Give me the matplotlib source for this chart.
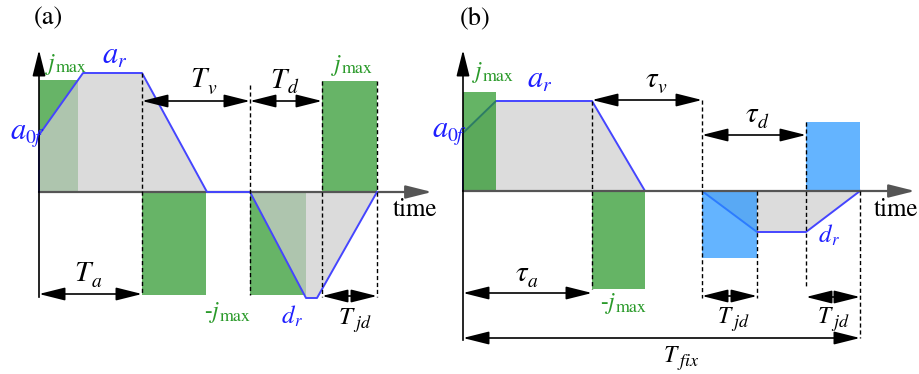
import numpy as np
import matplotlib
matplotlib.use('Agg')
import matplotlib.pyplot as plt
from matplotlib.patches import Rectangle

plt.rcParams['mathtext.fontset'] = 'stix'
plt.rcParams['font.family'] = ['STIXGeneral', 'DejaVu Serif']

# everything is in pixel units of the sketch (y grows downwards)
# panel (a)
a_axis_x, a_axis_y = 39, 192
a_t = [39, 39, 83, 142, 207, 250, 306, 317, 377]
a_acc = [192, 135, 73, 73, 192, 192, 298, 298, 192]
a_boxes = [(39, 78, 80), (142, 206, 295), (250, 306, 295), (322, 377, 81)]
a_dashes = [(142, 73, 295), (250, 85, 295), (322, 81, 297), (377, 81, 297)]
a_spans = [(142, 250, 101), (250, 322, 101), (39, 142, 294), (322, 377, 296)]

# panel (b)
b_axis_x, b_axis_y = 463, 191
b_t = [463, 463, 496, 592, 645, 702, 757, 806, 860]
b_acc = [191, 133, 101, 101, 191, 191, 232, 232, 191]
b_green = [(463, 496, 92), (592, 645, 289)]
b_blue = [(702, 757, 258), (806, 860, 122)]
b_dashes = [(592, 101, 289), (702, 100, 298), (757, 191, 298), (806, 122, 288), (860, 191, 338)]
b_spans = [(592, 702, 100), (702, 806, 135), (463, 592, 293), (702, 757, 296), (806, 860, 297), (463, 860, 338)]

GREEN_TXT = '#2a9a2a'
BLUE_TXT = '#1f1fff'
# (main, subscript, x, baseline, colour, main size, sub size, sub drop, gap)
labels = [
    (r'$j$', r'max', 45, 70, GREEN_TXT, 17, 13, 2, -1),
    (r'$a$', r'$r$', 102, 63, BLUE_TXT, 22, 14, 4, -2),
    (r'$a$', r'$0f$', 10, 139, BLUE_TXT, 22, 14, 4, -2),
    (r'$T$', r'$v$', 190, 87, 'k', 21, 14, 7, -3),
    (r'$T$', r'$d$', 270, 88, 'k', 21, 14, 5, -3),
    (r'$j$', r'max', 331, 71, GREEN_TXT, 17, 13, 2, -1),
    (r'$T$', r'$a$', 74, 281, 'k', 21, 14, 6, -3),
    (r'-$j$', r'max', 204, 318, GREEN_TXT, 17, 13, 3, -1),
    (r'$d$', r'$r$', 281, 323, BLUE_TXT, 18, 12, 3, -2),
    (r'$T$', r'$jd$', 338, 324, 'k', 18, 13, 4, -3),
    (r'$j$', r'max', 472, 78, GREEN_TXT, 17, 13, 3, -1),
    (r'$a$', r'$r$', 527, 87, BLUE_TXT, 22, 14, 4, -2),
    (r'$a$', r'$0f$', 432, 137, BLUE_TXT, 22, 14, 4, -2),
    (r'$\tau$', r'$v$', 645, 87, 'k', 21, 14, 6, -2),
    (r'$\tau$', r'$d$', 745, 122, 'k', 21, 14, 6, -2),
    (r'$d$', r'$r$', 818, 242, BLUE_TXT, 18, 12, 3, -2),
    (r'$\tau$', r'$a$', 515, 281, 'k', 21, 14, 6, -2),
    (r'-$j$', r'max', 600, 309, GREEN_TXT, 17, 13, 3, -1),
    (r'$T$', r'$jd$', 717, 323, 'k', 17, 13, 4, -3),
    (r'$T$', r'$jd$', 817, 323, 'k', 17, 13, 4, -3),
    (r'$T$', r'$fix$', 663, 362, 'k', 17, 13, 4, -3),
]
plain_labels = [('(a)', 34, 24, 19), ('(b)', 460, 24, 19),
                ('time', 393, 216, 18), ('time', 874, 216, 18)]

fig = plt.figure(figsize=(9.19, 3.74), dpi=100)
ax = fig.add_axes([0, 0, 1, 1])
ax.set_xlim(0, 919)
ax.set_ylim(374, 0)
ax.axis('off')

HEAD = '-|>,head_length=0.8,head_width=0.2'


def span(x0, x1, y):
    ax.annotate('', xy=(x1, y), xytext=(x0, y),
                arrowprops=dict(arrowstyle='<|-|>,head_length=0.8,head_width=0.2',
                                color='k', lw=1.2, shrinkA=0, shrinkB=0, mutation_scale=20),
                zorder=6)


def axes_arrows(x0, y0, ytop, ybot, xend):
    ax.plot([x0, x0], [y0, ybot], color='k', lw=1.2, zorder=5)
    ax.annotate('', xy=(x0, ytop), xytext=(x0, y0),
                arrowprops=dict(arrowstyle=HEAD, color='k', lw=1.2,
                                shrinkA=0, shrinkB=0, mutation_scale=20),
                zorder=5)
    ax.annotate('', xy=(xend, y0), xytext=(x0, y0),
                arrowprops=dict(arrowstyle=HEAD, color='#555555', lw=1.6,
                                shrinkA=0, shrinkB=0, mutation_scale=20),
                zorder=4)


# ---- panel (a)
for x0, x1, yb in a_boxes:
    ax.add_patch(Rectangle((x0, min(yb, a_axis_y)), x1 - x0, abs(yb - a_axis_y),
                           facecolor='#67b467', edgecolor='none', zorder=1))
ax.fill(a_t, a_acc, color='#cdcdcd', alpha=0.7, lw=0, zorder=2)
ax.plot(a_t, a_acc, color='#4545ff', lw=1.4, zorder=5)
for x, y0, y1 in a_dashes:
    ax.plot([x, x], [y0, y1], color='k', lw=1.0, ls=(0, (3, 2)), zorder=6)
for x0, x1, y in a_spans:
    span(x0, x1, y)
axes_arrows(a_axis_x, a_axis_y, 50, 297, 432)

# ---- panel (b)
ax.fill(b_t, b_acc, color='#dcdcdc', lw=0, zorder=1)
ax.plot(b_t, b_acc, color='#4545ff', lw=1.4, zorder=2)
for x0, x1, yb in b_green:
    ax.add_patch(Rectangle((x0, min(yb, b_axis_y)), x1 - x0, abs(yb - b_axis_y),
                           facecolor='#249424', alpha=0.7, edgecolor='none', zorder=3))
for x0, x1, yb in b_blue:
    ax.add_patch(Rectangle((x0, min(yb, b_axis_y)), x1 - x0, abs(yb - b_axis_y),
                           facecolor='#2294ff', alpha=0.7, edgecolor='none', zorder=3))
for x, y0, y1 in b_dashes:
    ax.plot([x, x], [y0, y1], color='k', lw=1.0, ls=(0, (3, 2)), zorder=6)
for x0, x1, y in b_spans:
    span(x0, x1, y)
axes_arrows(b_axis_x, b_axis_y, 50, 340, 915)

# ---- texts: main symbol, then a lowered subscript right after it
renderer = fig.canvas.get_renderer()
for main, sub, x, y, c, fs, fs2, drop, gap in labels:
    t = ax.text(x, y, main, color=c, fontsize=fs, ha='left', va='baseline', zorder=7)
    x_end = t.get_window_extent(renderer).x1
    ax.text(x_end + gap, y + drop, sub, color=c, fontsize=fs2, ha='left', va='baseline', zorder=7)
for txt, x, y, fs in plain_labels:
    ax.text(x, y, txt, color='k', fontsize=fs, ha='left', va='baseline', zorder=7)

fig.savefig('out.png', dpi=100)
